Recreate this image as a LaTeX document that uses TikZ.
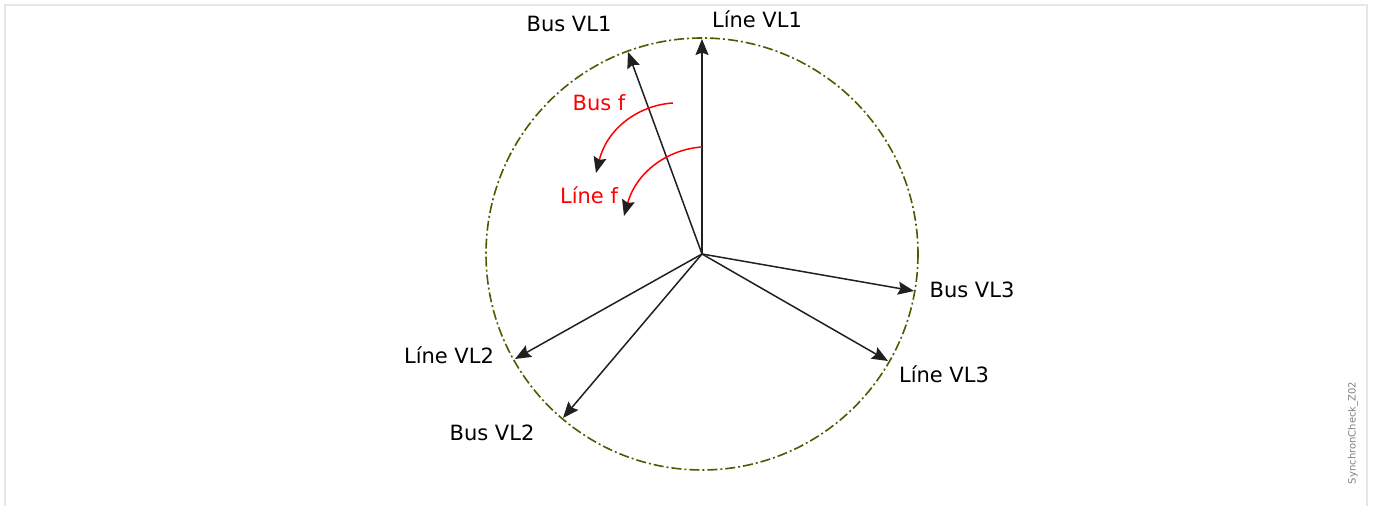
\documentclass[tikz,border=0pt]{standalone}
\usepackage{fontspec}
\setmainfont{DejaVu Sans}
\usetikzlibrary{arrows.meta}
\definecolor{olivec}{RGB}{77,90,0}
\definecolor{ink}{RGB}{35,31,32}
\definecolor{framec}{RGB}{230,230,230}
\begin{document}
\begin{tikzpicture}[x=0.5pt,y=-0.5pt,
  vec/.style={draw=ink,line width=0.75pt,-{Stealth[length=8pt,width=6.5pt,inset=1.2pt,color=ink]}},
  rot/.style={draw=red,line width=0.75pt,-{Stealth[length=8pt,width=6.5pt,inset=1.2pt,color=ink]}},
  lbl/.style={font=\fontsize{10.5pt}{12pt}\selectfont,text=black,inner sep=0pt},
  rlbl/.style={font=\fontsize{10.5pt}{12pt}\selectfont,text=red,inner sep=0pt},
  circ/.style={draw=olivec,line width=0.8pt,dash pattern=on 5pt off 1.5pt on 1pt off 1.5pt}]
\useasboundingbox (0,0) rectangle (1378,506);
\draw[framec,line width=1pt] (5,506) -- (5,5) -- (1367,5) -- (1367,506);
\coordinate (O) at (702,254);
\draw[circ] (O) circle[x radius=216,y radius=216];
\coordinate (tL1) at (702,39);
\coordinate (tB1) at (628,52);
\coordinate (tB3) at (914,291);
\coordinate (tL3) at (888,361);
\coordinate (tL2) at (515,359);
\coordinate (tB2) at (563,418);
\draw[vec] (O) -- (tL1);
\draw[vec] (O) -- (tB1);
\draw[vec] (O) -- (tB3);
\draw[vec] (O) -- (tL3);
\draw[vec] (O) -- (tL2);
\draw[vec] (O) -- (tB2);
\node[lbl] (nL1) at (757,19) {Líne VL1};
\node[lbl] (nB1) at (569,24) {Bus VL1};
\node[lbl] (nB3) at (972,290) {Bus VL3};
\node[lbl] (nL3) at (944,374) {Líne VL3};
\node[lbl] (nL2) at (449,355) {Líne VL2};
\node[lbl] (nB2) at (492,433) {Bus VL2};
\coordinate (bs) at (673,103);
\coordinate (be) at (596,173);
\coordinate (ls) at (702,147);
\coordinate (le) at (624,216);
\draw[rot] (bs) .. controls (641,105) and (608,126) .. (be);
\draw[rot] (ls) .. controls (670,149) and (637,170) .. (le);
\node[rlbl] (nbf) at (599,103) {Bus f};
\node[rlbl] (nlf) at (589,195) {Líne f};
\node[font=\fontsize{5pt}{6pt}\selectfont,text=gray,rotate=90,inner sep=0pt] (wm) at (1353,433) {SynchronCheck\_Z02};
\end{tikzpicture}
\end{document}
